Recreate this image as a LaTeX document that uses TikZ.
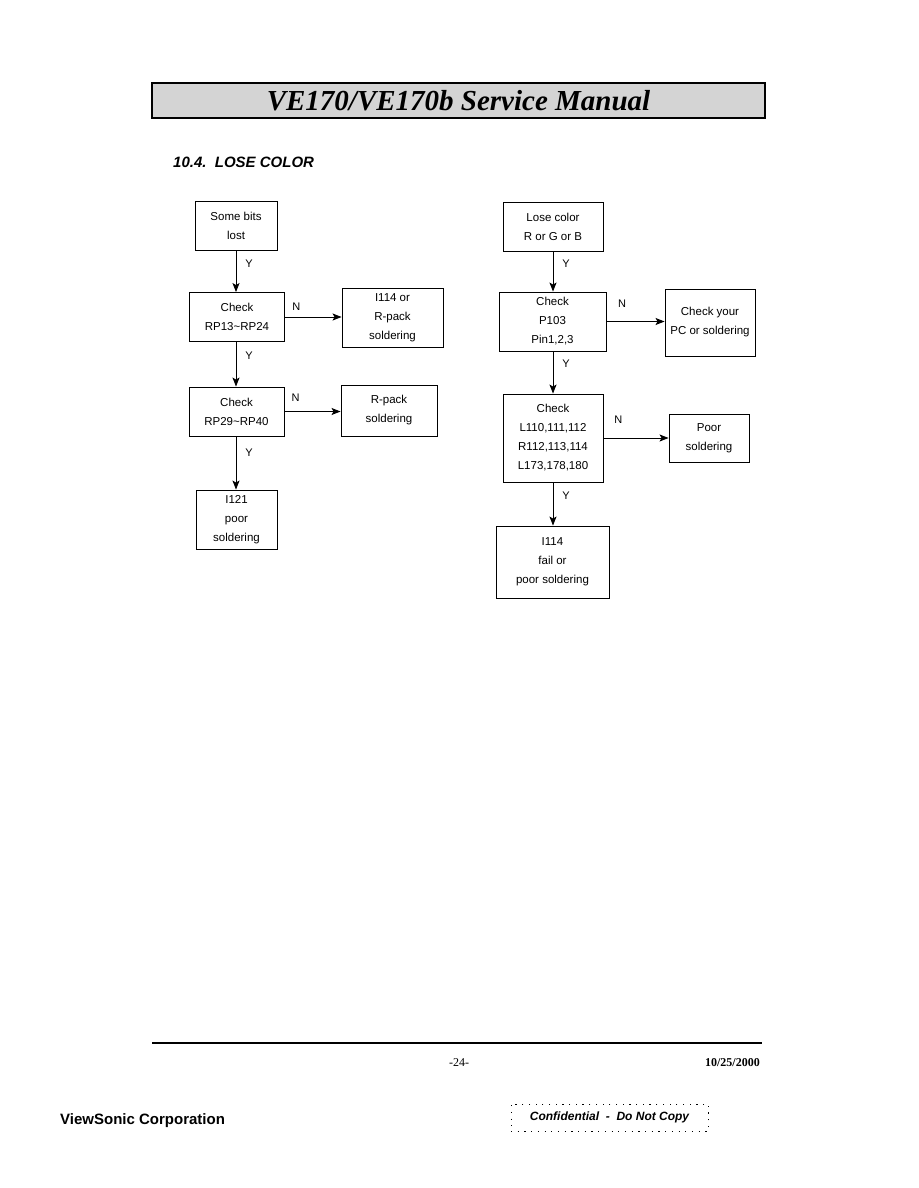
\documentclass[tikz,border=0pt]{standalone}
\usepackage{fontspec}
\setmainfont{Liberation Serif}
\setsansfont{Liberation Sans}
\usetikzlibrary{arrows.meta, positioning}

\begin{document}
\begin{tikzpicture}[x=1pt, y=-1pt,
  box/.style={rectangle, draw, line width=0.9pt, align=center, inner sep=0pt,
              font=\sffamily\fontsize{11.5}{19}\selectfont},
  arrow/.style={-{Stealth[length=9pt, width=7pt, inset=2pt]}, line width=0.9pt},
  lbl/.style={inner sep=0pt, font=\sffamily\fontsize{11}{13}\selectfont}
]
\useasboundingbox[fill=white] (0,0) rectangle (918,1188);

% header
\node[draw, line width=1.6pt, fill=black!17, minimum width=613, minimum height=35,
      inner sep=0pt] (header) at (458.5,100.5)
      {\bfseries\itshape\fontsize{29}{30}\selectfont VE170/VE170b Service Manual};
\node[lbl, anchor=west, font=\sffamily\bfseries\itshape\fontsize{15}{17}\selectfont]
      (section) at (173,162) {10.4.\ \ LOSE COLOR};

% left chart
\node[box, minimum width=82, minimum height=49] (bits) at (236,226) {Some bits\\lost};
\node[box, minimum width=95, minimum height=49] (rp13) at (237,317) {Check\\RP13\textasciitilde RP24};
\node[box, minimum width=101, minimum height=59] (i114) at (392.5,317.5) {I114 or\\R-pack\\soldering};
\node[box, minimum width=95, minimum height=49] (rp29) at (236.5,411.5) {Check\\RP29\textasciitilde RP40};
\node[box, minimum width=96, minimum height=51] (rpack) at (389,410.5) {R-pack\\soldering};
\node[box, minimum width=81, minimum height=59] (i121) at (236.5,519.5) {I121\\poor\\soldering};

\draw[arrow] (bits) -- node[lbl, right=9pt, pos=0.3]{Y} (bits |- rp13.north);
\draw[arrow] (rp13.east) -- node[lbl, above=6pt, pos=0.2]{N} (i114.west |- rp13.east);
\draw[arrow] (rp13.south -| bits) -- node[lbl, right=9pt, pos=0.3]{Y} (bits |- rp29.north);
\draw[arrow] (rp29.east) -- node[lbl, above=10pt, pos=0.2]{N} (rpack.west |- rp29.east);
\draw[arrow] (rp29.south -| bits) -- node[lbl, right=9pt, pos=0.3]{Y} (bits |- i121.north);

% right chart
\node[box, minimum width=100, minimum height=49] (lose) at (553,226.5) {Lose color\\R or G or B};
\node[box, minimum width=107, minimum height=59] (p103) at (552.5,321.5) {Check\\P103\\Pin1,2,3};
\node[box, minimum width=90, minimum height=67] (pc) at (710,322.5) {Check your\\PC or soldering};
\node[box, minimum width=100, minimum height=88] (lchk) at (553,438) {Check\\L110,111,112\\R112,113,114\\L173,178,180};
\node[box, minimum width=80, minimum height=48] (poor) at (709,438) {Poor\\soldering};
\node[box, minimum width=113, minimum height=72] (fail) at (552.5,562) {I114\\fail or\\poor soldering};

\draw[arrow] (lose) -- node[lbl, right=9pt, pos=0.3]{Y} (lose |- p103.north);
\draw[arrow] (p103.east) -- node[lbl, above=14pt, pos=0.27]{N} (pc.west |- p103.east);
\draw[arrow] (p103.south -| lose) -- node[lbl, right=9pt, pos=0.3]{Y} (lose |- lchk.north);
\draw[arrow] (lchk) -- node[lbl, above=14pt, pos=0.23]{N} (poor);
\draw[arrow] (lchk.south -| lose) -- node[lbl, right=9pt, pos=0.3]{Y} (lose |- fail.north);

% footer
\coordinate (ruleL) at (152,1043);
\coordinate (ruleR) at (762,1043);
\draw[line width=1.8pt] (ruleL) -- (ruleR);
\node[lbl, font=\fontsize{12}{14}\selectfont] (page) at (459,1063) {-24-};
\node[lbl, anchor=east, font=\bfseries\fontsize{12}{14}\selectfont] (date) at (760,1063) {10/25/2000};
\node[lbl, anchor=west, font=\sffamily\bfseries\fontsize{15}{17}\selectfont] (company) at (60,1121) {ViewSonic Corporation};
\node[draw, line width=0.8pt, dash pattern=on 1.2pt off 5.5pt, minimum width=197, minimum height=27,
      inner sep=0pt, font=\sffamily\bfseries\itshape\fontsize{12}{14}\selectfont]
      (confid) at (609.5,1117.5) {Confidential \ -\ \ Do Not Copy};
\end{tikzpicture}
\end{document}
